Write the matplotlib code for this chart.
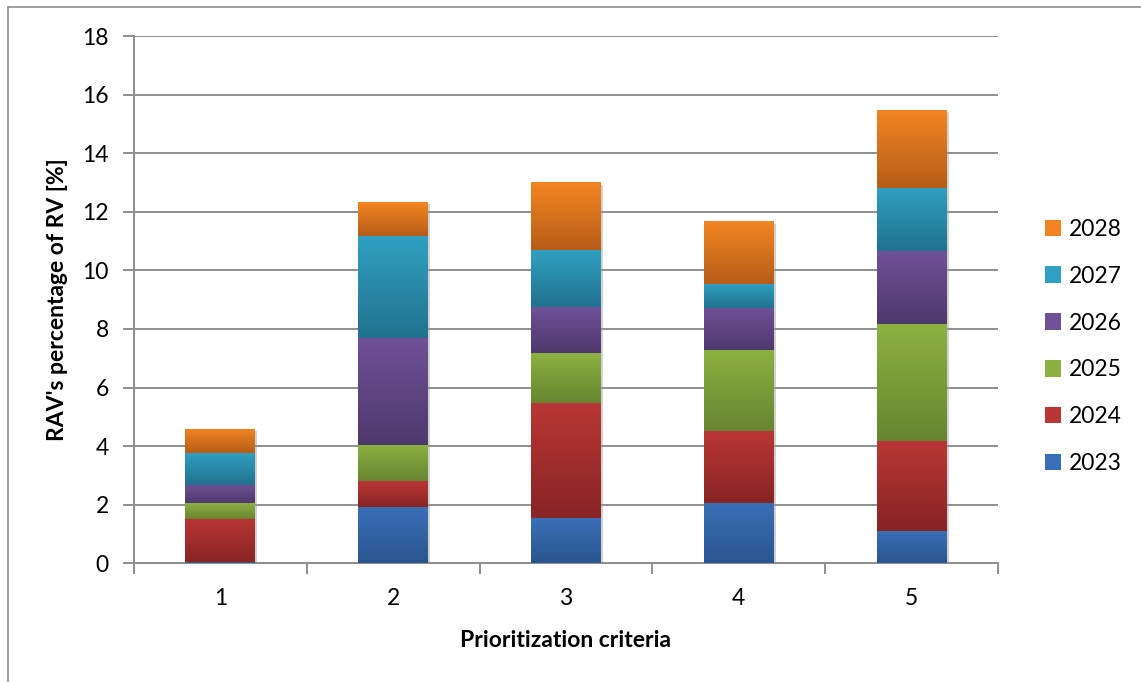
"""Stacked bar chart: RAV's percentage of RV per prioritization criterion."""

import matplotlib

matplotlib.use("Agg")
import matplotlib.patheffects as pe
import matplotlib.pyplot as plt
import numpy as np
from matplotlib.colors import to_rgb
from matplotlib.patches import Rectangle

plt.rcParams["font.family"] = ["Lato", "DejaVu Sans"]

# data
criteria = ["1", "2", "3", "4", "5"]
years = ["2023", "2024", "2025", "2026", "2027", "2028"]
y2023 = [0.05, 1.93, 1.56, 2.06, 1.10]
y2024 = [1.48, 0.88, 3.91, 2.45, 3.07]
y2025 = [0.52, 1.23, 1.70, 2.77, 3.99]
y2026 = [0.62, 3.66, 1.57, 1.45, 2.49]
y2027 = [1.10, 3.47, 1.95, 0.82, 2.16]
y2028 = [0.83, 1.15, 2.31, 2.12, 2.68]
series = [y2023, y2024, y2025, y2026, y2027, y2028]

# (top colour, bottom colour) of the vertical gradient of each series
GRADIENTS = [
    ("#3A6FB7", "#2A568F"),
    ("#BA3636", "#882424"),
    ("#8DB141", "#678530"),
    ("#6F5197", "#4E396D"),
    ("#30A0C2", "#21728E"),
    ("#F28522", "#B75D18"),
]
GRID = "#8E8E8E"
TEXT = "#000000"


def gradient_fill(ax, patch, top, bottom):
    """Paint a bar patch with a top-to-bottom colour gradient."""
    x, y = patch.get_x(), patch.get_y()
    w, h = patch.get_width(), patch.get_height()
    t = np.linspace(0, 1, 64)[:, None]
    c = (1 - t) * np.array(to_rgb(top)) + t * np.array(to_rgb(bottom))
    img = ax.imshow(c[:, None, :], extent=[x, x + w, y, y + h], aspect="auto",
                    origin="upper", interpolation="bilinear", zorder=3)
    img.set_clip_path(patch)


fig = plt.figure(figsize=(11.41, 6.82), dpi=100)
ax = fig.add_axes([0.1174, 0.174, 0.7573, 0.7732])

xpos = np.arange(len(criteria))
bottom = np.zeros(len(criteria))
handles = []
shadow = [pe.SimplePatchShadow(offset=(1.5, -1.5), shadow_rgbFace="#9A9A9A",
                               alpha=0.45)]
for vals, lab, (top_c, bot_c) in zip(series, years, GRADIENTS):
    bars = ax.bar(xpos, vals, width=0.405, bottom=bottom, label=lab,
                  facecolor="none", edgecolor="none", zorder=2.5)
    for p in bars.patches:
        p.set_path_effects(shadow)
        gradient_fill(ax, p, top_c, bot_c)
    bottom += np.array(vals)
    handles.append(Rectangle((0, 0), 1, 1, facecolor=top_c, edgecolor="none"))

ax.set_xlim(-0.5, len(criteria) - 0.5)
ax.set_ylim(0, 18)
ax.set_yticks(np.arange(0, 19, 2))
ax.set_xticks(xpos)
ax.set_xticklabels(criteria)
ax.set_xticks(np.arange(-0.5, len(criteria), 1), minor=True)

ax.grid(axis="y", color=GRID, linewidth=1.4, zorder=0)
for side in ["top", "right"]:
    ax.spines[side].set_visible(False)
for side in ["left", "bottom"]:
    ax.spines[side].set_color(GRID)
    ax.spines[side].set_linewidth(1.4)

ax.tick_params(axis="y", length=8, width=1.4, color=GRID, labelsize=16.5,
               pad=10, labelcolor=TEXT)
ax.tick_params(axis="x", which="major", length=0, labelsize=16.5, pad=18,
               labelcolor=TEXT)
ax.tick_params(axis="x", which="minor", length=8, width=1.4, color=GRID)

ax.set_xlabel("Prioritization criteria", fontsize=16.5, fontweight="bold",
              labelpad=15)
ax.set_ylabel("RAV's percentage of RV [%]", fontsize=16.5, fontweight="bold",
              labelpad=10)

ax.legend(handles[::-1], years[::-1], loc="center left",
          bbox_to_anchor=(0.9075, 0.492), bbox_transform=fig.transFigure,
          frameon=False, fontsize=16.5, handlelength=0.72, handleheight=0.72,
          handletextpad=0.35, labelspacing=1.13, borderaxespad=0)

# thin chart-area border (left and top edges visible in the reference)
fig.add_artist(plt.Line2D([0.007, 0.007], [0.0, 0.99], color=GRID,
                          linewidth=1.2, transform=fig.transFigure))
fig.add_artist(plt.Line2D([0.007, 1.0], [0.99, 0.99], color=GRID,
                          linewidth=1.2, transform=fig.transFigure))

fig.savefig("out.png", dpi=100)
